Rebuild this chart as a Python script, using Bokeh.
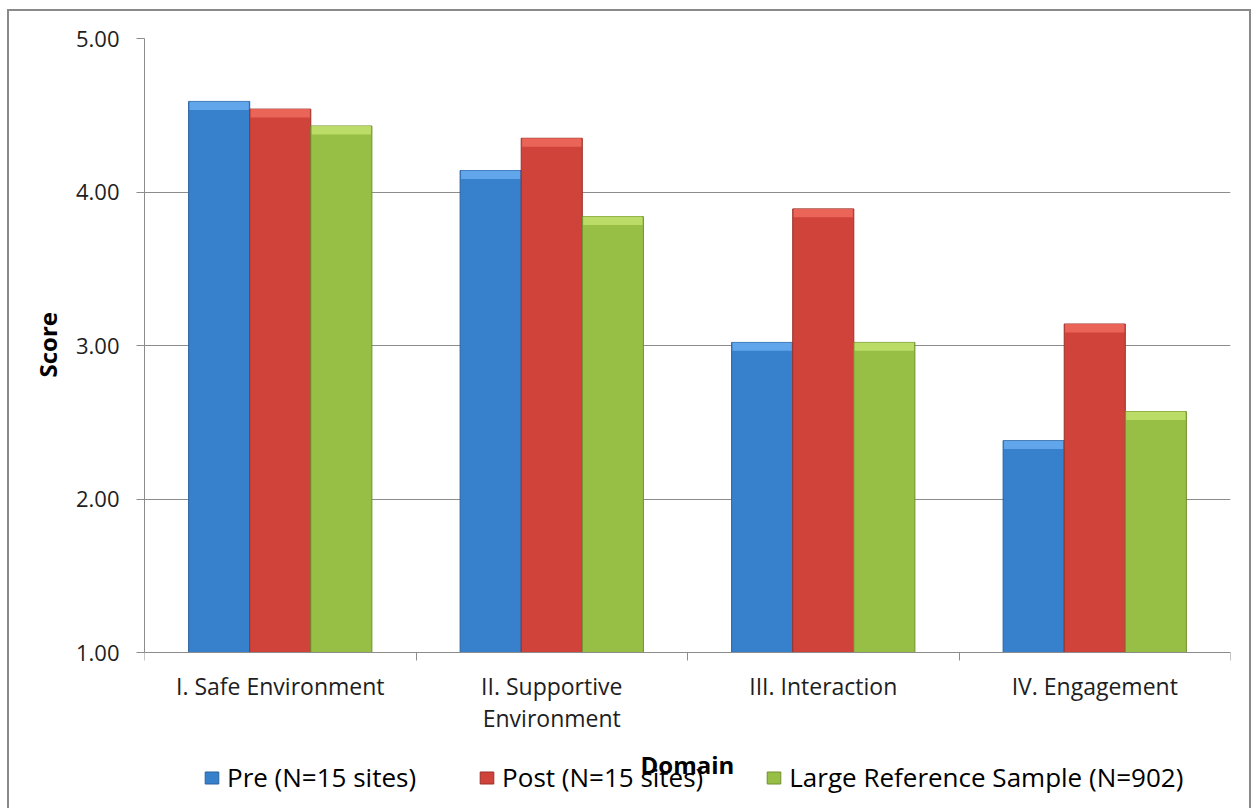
from bokeh.plotting import figure
from bokeh.models import (ColumnDataSource, Range1d, LinearAxis, FixedTicker, Legend, LegendItem,
                          NumeralTickFormatter, Grid, Title)
from bokeh.transform import dodge
from bokeh.embed import file_html
from bokeh.resources import INLINE

# ---- data ----
categories = ["I. Safe Environment", "II. Supportive\nEnvironment", "III. Interaction", "IV. Engagement"]
pre = [4.59, 4.14, 3.02, 2.38]
post = [4.54, 4.35, 3.89, 3.14]
large = [4.43, 3.84, 3.02, 2.57]
series_names = ["Pre (N=15 sites)", "Post (N=15 sites)", "Large Reference Sample (N=902)"]
y_ticks = [1, 2, 3, 4, 5]
y_min, y_max = 1, 5

FONT = "Open Sans"
TEXT = "#1e1e1e"
GRAY = "#8c8c8c"

body_colors = ["#3780CC", "#D0433A", "#98BF45"]
cap_colors = ["#69ABEE", "#EE6A5E", "#C2E06E"]
edge_colors = ["#2A619F", "#9B2F27", "#6F8F2F"]

n = len(categories)
centers = [i + 0.5 for i in range(n)]
boundaries = list(range(n + 1))

# layout: plotting area (1..5) is 614px tall, with 158px of room below it for labels/legend
plot_px, below_px = 614, 158
y_lo = y_min - (y_max - y_min) * below_px / plot_px

cap_depth = 0.055
src = ColumnDataSource(dict(
    xc=centers,
    pre=pre, post=post, large=large,
    pre_cap=[v - cap_depth for v in pre],
    post_cap=[v - cap_depth for v in post],
    large_cap=[v - cap_depth for v in large],
))

p = figure(x_range=Range1d(0, n), y_range=Range1d(y_lo, y_max),
           width=1244, height=799,
           output_backend="svg", toolbar_location=None,
           x_axis_location=None, y_axis_location=None,
           min_border_left=135, min_border_right=23,
           min_border_top=27, min_border_bottom=0)
for g in p.grid:
    g.visible = False
p.outline_line_color = None
p.background_fill_color = "white"
p.border_fill_color = "white"
p.styles = {"border-left": "2px solid #8a8a8a", "border-top": "2px solid #8a8a8a",
            "border-right": "2px solid #8a8a8a", "margin-left": "7px", "margin-top": "9px"}

# y axis
yaxis = LinearAxis(ticker=FixedTicker(ticks=y_ticks),
                   formatter=NumeralTickFormatter(format="0.00"),
                   bounds=(y_min, y_max))
yaxis.axis_line_color = GRAY
yaxis.major_tick_line_color = GRAY
yaxis.major_tick_out = 8
yaxis.major_tick_in = 0
yaxis.minor_tick_out = 0
yaxis.minor_tick_in = 0
yaxis.major_label_standoff = 17
yaxis.major_label_text_font = FONT
yaxis.major_label_text_font_size = "22px"
yaxis.major_label_text_color = TEXT
p.add_layout(yaxis, "left")

# y axis title, centred on the 1..5 part of the axis
score_title = Title(text="Score", align="left", offset=433, standoff=17,
                    text_font=FONT, text_font_size="24px", text_font_style="bold",
                    text_color="black")
p.add_layout(score_title, "left")

p.add_layout(Grid(dimension=1, ticker=FixedTicker(ticks=y_ticks), grid_line_color=GRAY, grid_line_width=1))

# category labels axis (drawn at y = 1.00)
cat_axis = LinearAxis(ticker=FixedTicker(ticks=centers), axis_label="Domain", fixed_location=y_min)
cat_axis.axis_line_color = None
cat_axis.major_tick_line_color = None
cat_axis.minor_tick_line_color = None
cat_axis.major_tick_out = 0
cat_axis.major_tick_in = 0
cat_axis.major_label_standoff = 17
cat_axis.major_label_text_font = FONT
cat_axis.major_label_text_font_size = "23px"
cat_axis.major_label_text_color = TEXT
cat_axis.major_label_text_line_height = 1.0
cat_axis.major_label_overrides = dict(zip(centers, categories))
cat_axis.axis_label_standoff = 11
cat_axis.axis_label_text_font = FONT
cat_axis.axis_label_text_font_size = "24px"
cat_axis.axis_label_text_font_style = "bold"
cat_axis.axis_label_text_color = "black"
p.add_layout(cat_axis, "below")

# boundary tick axis (category separators, drawn at y = 1.00)
bound_axis = LinearAxis(ticker=FixedTicker(ticks=boundaries), fixed_location=y_min)
bound_axis.axis_line_color = GRAY
bound_axis.major_tick_line_color = GRAY
bound_axis.major_tick_out = 8
bound_axis.major_tick_in = 0
bound_axis.minor_tick_out = 0
bound_axis.minor_tick_in = 0
bound_axis.major_label_text_font_size = "0px"
bound_axis.major_label_standoff = 0
bound_axis.major_label_overrides = {b: "" for b in boundaries}
p.add_layout(bound_axis, "below")

# bars
bar_w = 0.225
offsets = [-bar_w, 0.0, bar_w]
keys = ["pre", "post", "large"]
main_renderers = []
for key, off, body, cap, edge in zip(keys, offsets, body_colors, cap_colors, edge_colors):
    r = p.vbar(x=dodge("xc", off), top=key, bottom=y_min, width=bar_w,
               source=src, fill_color=body, line_color=edge, line_width=1)
    p.vbar(x=dodge("xc", off), top=key, bottom=key + "_cap",
           width=bar_w * 0.97, source=src, fill_color=cap, fill_alpha=0.85, line_color=None)
    main_renderers.append(r)

legend = Legend(items=[LegendItem(label=nm, renderers=[r]) for nm, r in zip(series_names, main_renderers)],
                orientation="horizontal", location=(59, 15),
                spacing=62, label_standoff=7, glyph_width=17, glyph_height=15,
                padding=0, margin=0, border_line_color=None, background_fill_alpha=0,
                label_text_font=FONT, label_text_font_size="26px", label_text_color="black")
p.add_layout(legend, "center")

open("out.html", "w").write(file_html(p, INLINE))
